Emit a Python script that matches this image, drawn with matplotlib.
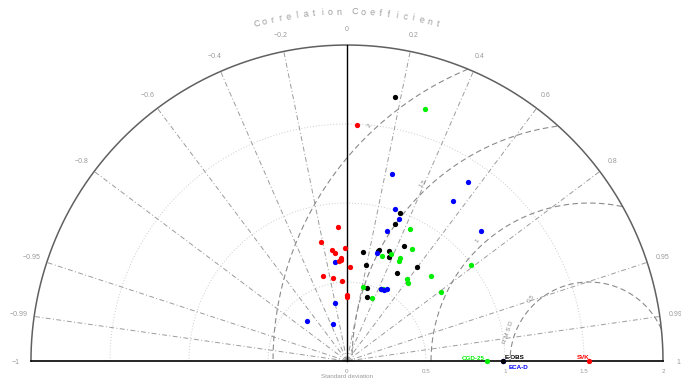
import numpy as np
import matplotlib.pyplot as plt

plt.rcParams['font.family'] = ['Liberation Sans', 'DejaVu Sans']

# ---------------------------------------------
#  reference data sets (correlation = 1, on the x axis)
# ---------------------------------------------
ref_names = ['CGD-25', 'ECA-D', 'E-OBS', 'SVK']
ref_std = [0.886, 0.99, 0.987, 1.532]
ref_colors = ['#00ee00', '#0000ff', 'black', '#ff0000']

# ---------------------------------------------
#  model points: standard deviation and correlation
# ---------------------------------------------
black_std = [1.696, 0.997, 0.922, 0.812, 0.696, 0.726, 0.733, 0.747, 0.709, 0.621, 0.741, 0.641, 0.477, 0.504, 0.425]
black_cor = [0.179, 0.338, 0.330, 0.448, 0.150, 0.268, 0.278, 0.358, 0.377, 0.192, 0.596, 0.491, 0.263, 0.427, 0.292]

green_std = [1.669, 0.927, 0.819, 0.702, 0.733, 0.734, 0.713, 0.645, 0.627, 0.755, 0.738, 0.994, 0.481, 0.508, 0.430]
green_cor = [0.295, 0.432, 0.505, 0.318, 0.377, 0.457, 0.460, 0.589, 0.613, 0.704, 0.803, 0.791, 0.214, 0.451, 0.375]

blue_std = [1.219, 1.365, 1.214, 1.008, 0.956, 0.863, 1.182, 0.711, 0.631, 0.502, 0.506, 0.524, 0.375, 0.359, 0.250]
blue_cor = [0.233, 0.560, 0.554, 0.299, 0.346, 0.292, 0.718, 0.265, -0.120, 0.426, 0.467, 0.483, -0.203, -0.710, -0.347]

red_std = [1.498, 0.852, 0.771, 0.713, 0.709, 0.687, 0.655, 0.639, 0.632, 0.597, 0.561, 0.530, 0.506, 0.416, 0.406]
red_cor = [0.041, -0.069, -0.216, -0.015, -0.132, -0.113, -0.056, -0.057, -0.078, 0.035, -0.274, -0.167, -0.060, -0.003, 0.0]

# ---------------------------------------------
#  grid settings
# ---------------------------------------------
sd_max = 2.0
sd_ref = 1.532  # RMSD arcs are centred on SVK
corr_ticks = [0.2, 0.4, 0.6, 0.8, 0.95, 0.99]
sd_arcs = [0.5, 1.0, 1.5]
sd_ticks = [0, 0.5, 1, 1.5, 2]
rmsd_levels = [0.5, 1.0, 1.5, 2.0]


def to_xy(std, cor):
    std = np.asarray(std)
    cor = np.asarray(cor)
    return std * cor, std * np.sqrt(1 - cor ** 2)


def fmt(v):
    s = f"{v:g}"
    return s.replace('-', '\u2212')


fig = plt.figure(figsize=(6.81, 3.83), dpi=100)
ax = fig.add_axes([0, 0, 1, 1])
ax.set_xlim(-2.196, 2.114)
ax.set_ylim(-0.139, 2.285)
ax.axis('off')

lab_col = '#9a9a9a'
th = np.linspace(0, np.pi, 500)

# standard deviation arcs (dotted)
for r in sd_arcs:
    ax.plot(r * np.cos(th), r * np.sin(th), color='#cccccc', lw=0.7,
            linestyle=(0, (1, 2)), zorder=1)

# correlation rays (dash-dot)
for c in corr_ticks:
    for s in (1, -1):
        ax.plot([0, s * c * sd_max], [0, np.sqrt(1 - c ** 2) * sd_max],
                color='#9c9c9c', lw=0.7, linestyle=(0, (5, 2.5, 1, 2.5)), zorder=1)

# RMSD arcs centred on the reference
for g in rmsd_levels:
    xs = sd_ref + g * np.cos(th)
    ys = g * np.sin(th)
    inside = xs ** 2 + ys ** 2 <= sd_max ** 2
    ax.plot(xs[inside], ys[inside], color='#8a8a8a', lw=0.8,
            linestyle=(0, (5, 3)), zorder=1)
    a = np.radians(133)
    ax.text(sd_ref + (g + 0.04) * np.cos(a), (g + 0.04) * np.sin(a), fmt(g),
            rotation=55, ha='center', va='center', fontsize=4.5, color='#8a8a8a')
ax.text(1.019, 0.184, 'R M S D', rotation=72, ha='center', va='center',
        fontsize=4.5, color='#8a8a8a')

# frame: outer arc and axes
ax.plot(sd_max * np.cos(th), sd_max * np.sin(th), color='#606060', lw=1.1, zorder=2)
ax.plot([-sd_max, sd_max], [0, 0], color='black', lw=1.2, zorder=2)
ax.plot([0, 0], [0, sd_max], color='black', lw=1.0, zorder=2)

# correlation labels
rl = 1.05 * sd_max
for c in corr_ticks:
    for s in (1, -1):
        ax.text(s * c * rl, np.sqrt(1 - c ** 2) * rl, fmt(s * c),
                ha='center', va='center', fontsize=5, color=lab_col)
ax.text(0, rl, '0', ha='center', va='center', fontsize=5, color=lab_col)
ax.text(-rl, -0.01, fmt(-1), ha='center', va='center', fontsize=5, color=lab_col)
ax.text(rl, -0.01, '1', ha='center', va='center', fontsize=5, color=lab_col)

# curved title
title = 'Correlation Coefficient'
step = 1.365
n = len(title)
for i, ch in enumerate(title):
    ang = 90 + (n - 1) / 2 * step - i * step
    a = np.radians(ang)
    ax.text(2.21 * np.cos(a), 2.21 * np.sin(a), ch, rotation=ang - 90,
            rotation_mode='anchor', ha='center', va='center', fontsize=6.5, color=lab_col)

# standard deviation labels
for v in sd_ticks:
    ax.text(v, -0.065, fmt(v), ha='center', va='center', fontsize=4.5, color=lab_col)
ax.text(0, -0.098, 'Standard deviation', ha='center', va='center', fontsize=4.5, color=lab_col)

# model points
for std, cor, col in [(black_std, black_cor, 'black'),
                      (green_std, green_cor, '#00ee00'),
                      (blue_std, blue_cor, '#0000ff'),
                      (red_std, red_cor, '#ff0000')]:
    x, y = to_xy(std, cor)
    ax.plot(x, y, 'o', color=col, ms=3.8, mew=0, zorder=4)

# reference points on the axis
for name, sd, col in zip(ref_names, ref_std, ref_colors):
    ax.plot(sd, 0, 'o', color=col, ms=3.8, mew=0, zorder=5, clip_on=False)

ax.text(ref_std[0] - 0.012, 0.013, ref_names[0], ha='right', va='center',
        fontsize=4.5, fontweight='bold', color=ref_colors[0])
ax.text(ref_std[1] + 0.035, -0.044, ref_names[1], ha='left', va='center',
        fontsize=4.5, fontweight='bold', color=ref_colors[1])
ax.text(ref_std[2] + 0.013, 0.025, ref_names[2], ha='left', va='center',
        fontsize=4.5, fontweight='bold', color=ref_colors[2])
ax.text(ref_std[3] + 0.005, 0.025, ref_names[3], ha='right', va='center',
        fontsize=4.5, fontweight='bold', color=ref_colors[3])

fig.savefig('out.png', dpi=100)
